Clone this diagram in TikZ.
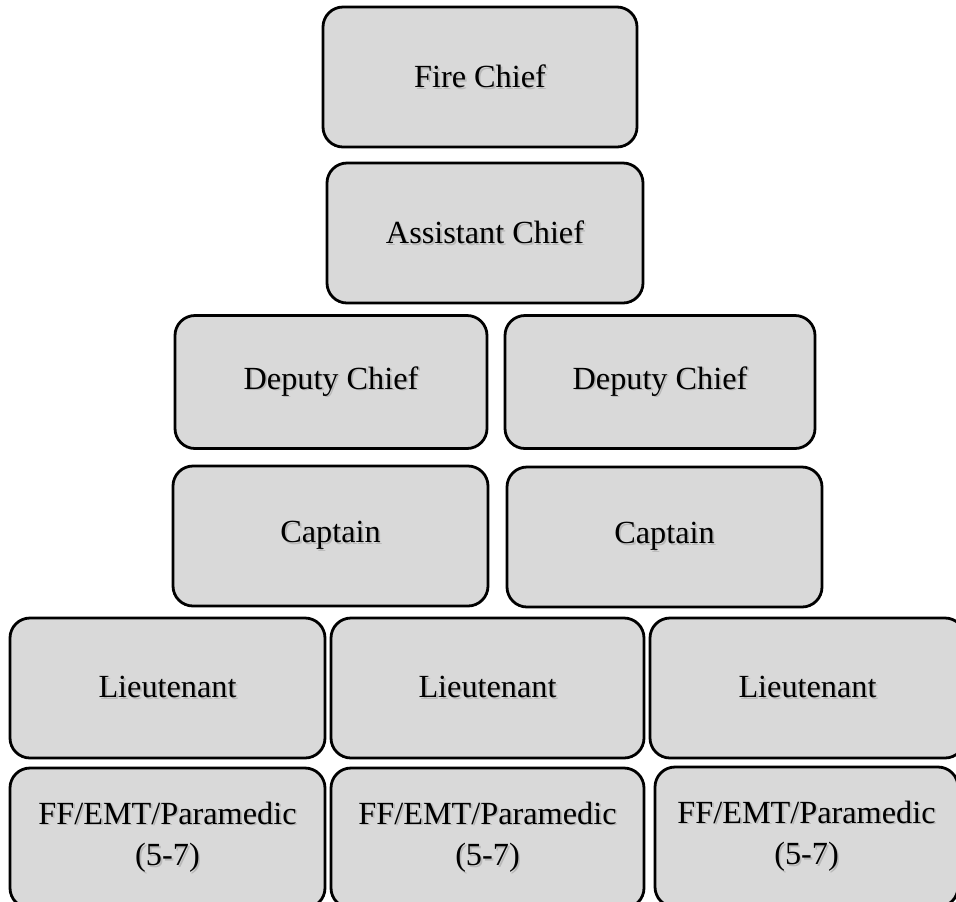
\documentclass[tikz,border=0pt]{standalone}
\usepackage{fontspec}
\setmainfont{Liberation Serif}
\newcommand\shadowtxt[1]{\makebox[0pt][l]{\hspace{1.3pt}\raisebox{-1.3pt}{\color{black!28}#1}}#1}
\definecolor{boxgray}{HTML}{D9D9D9}
\tikzset{
  orgbox/.style={draw=black, fill=boxgray, line width=2.1pt, rounded corners=15pt,
    inner sep=0pt, align=center, font=\fontsize{24.2}{31}\selectfont},
  dims/.style 2 args={minimum width=#1*0.75pt, minimum height=#2*0.75pt}
}
\begin{document}
\begin{tikzpicture}[x=0.75pt,y=-0.75pt]
\useasboundingbox (0,0) rectangle (956,901);
\clip (0,0) rectangle (956,901);
\fill[white] (0,0) rectangle (956,901);
\node[orgbox, dims={314}{140}] (fire) at (480,77) {\shadowtxt{Fire Chief}};
\node[orgbox, dims={316}{140}] (asst) at (485,233) {\shadowtxt{Assistant Chief}};
\node[orgbox, dims={312}{133}] (depL) at (331,382) {\shadowtxt{Deputy Chief}};
\node[orgbox, dims={310}{133}] (depR) at (660,382) {\shadowtxt{Deputy Chief}};
\node[orgbox, dims={315}{140}] (capL) at (330.5,536) {\shadowtxt{Captain}};
\node[orgbox, dims={315}{140}] (capR) at (664.5,537) {\shadowtxt{Captain}};
\node[orgbox, dims={315}{140}] (ltL) at (167.5,688) {\shadowtxt{Lieutenant}};
\node[orgbox, dims={313}{140}] (ltM) at (487.5,688) {\shadowtxt{Lieutenant}};
\node[orgbox, dims={315}{140}] (ltR) at (807.5,688) {\shadowtxt{Lieutenant}};
\node[orgbox, dims={315}{140}] (ffL) at (167.5,838) {\shadowtxt{FF/EMT/Paramedic}\\\shadowtxt{(5-7)}};
\node[orgbox, dims={313}{140}] (ffM) at (487.5,838) {\shadowtxt{FF/EMT/Paramedic}\\\shadowtxt{(5-7)}};
\node[orgbox, dims={303}{140}] (ffR) at (806.5,837) {\shadowtxt{FF/EMT/Paramedic}\\\shadowtxt{(5-7)}};
\end{tikzpicture}
\end{document}
